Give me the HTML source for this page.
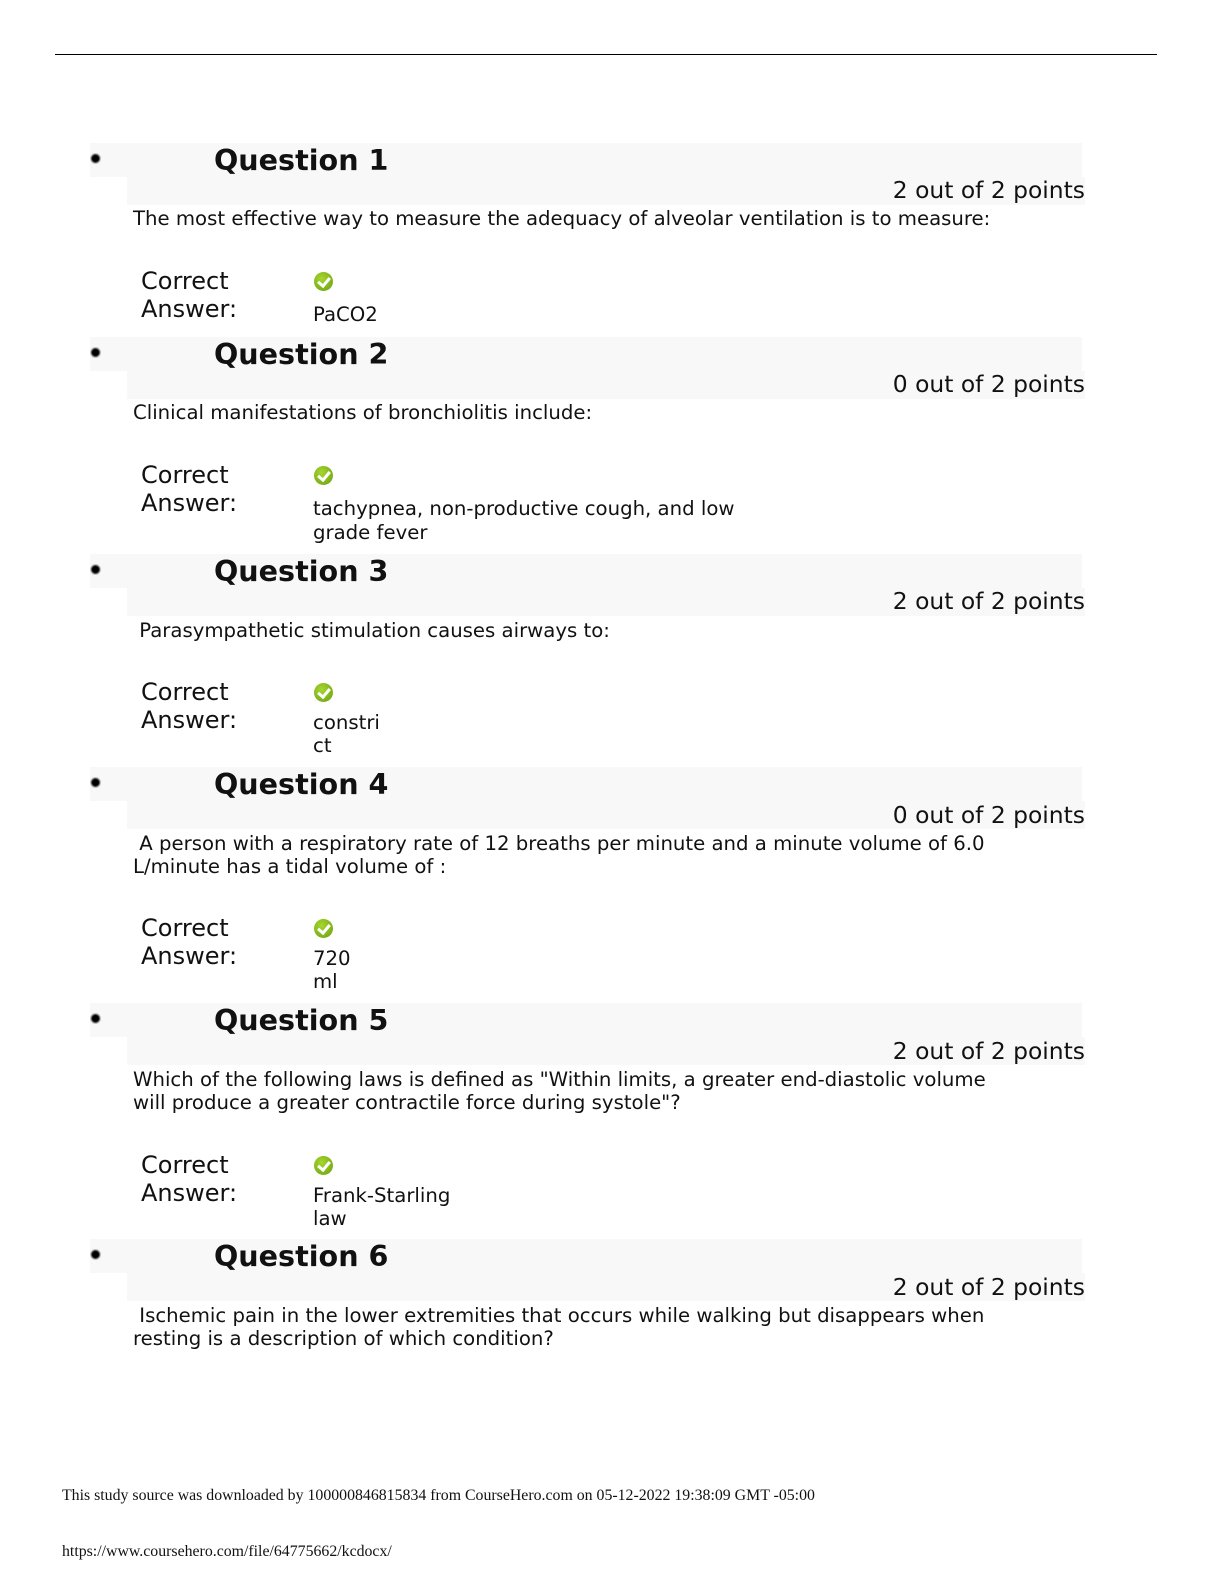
<!DOCTYPE html>
<html><head><meta charset="utf-8"><style>
html,body{margin:0;padding:0;background:#fff;}
body{width:1224px;height:1584px;position:relative;overflow:hidden;font-family:"DejaVu Sans","Liberation Sans",sans-serif;color:#111;}
.a{position:absolute;white-space:nowrap;}
.band1{position:absolute;left:90px;width:992px;height:34px;background:#f8f8f8;}
.band2{position:absolute;left:127px;width:958px;height:28px;background:#f8f8f8;}
.t{font-weight:bold;font-size:28.6px;line-height:34px;left:214px;}
.p{font-size:23.4px;line-height:28px;right:139px;}
.q{font-size:19.7px;line-height:23px;left:133px;}
.c{font-size:24px;line-height:28px;left:141px;}
.ans{font-size:19.7px;line-height:23px;left:313px;}
.bul{position:absolute;left:91px;width:7px;height:7px;border-radius:50%;background:#000;border:1.5px solid #555;box-shadow:0 0 0 1px #bbb;}
.chk{position:absolute;left:314px;width:19px;height:19px;border-radius:50%;background:radial-gradient(circle at 40% 35%,#a6d630,#6a9e10);}
.chk:after{content:"";position:absolute;left:6px;top:3px;width:5px;height:9px;border:solid #fff;border-width:0 3px 3px 0;transform:rotate(40deg);}
.f{font-family:"Liberation Serif",serif;font-size:16px;left:62px;transform:scaleX(0.99);transform-origin:left;}
</style></head><body>
<div style="position:absolute;left:55px;top:54px;width:1102px;height:1px;background:#000"></div>

<!-- Q1 -->
<div class="band1" style="top:143px"></div><div class="band2" style="top:177px"></div>
<div class="bul" style="top:154px"></div>
<div class="a t" style="top:143px">Question 1</div>
<div class="a p" style="top:176px">2 out of 2 points</div>
<div class="a q" style="top:207px">The most effective way to measure the adequacy of alveolar ventilation is to measure:</div>
<div class="a c" style="top:267px">Correct</div>
<div class="a c" style="top:295px">Answer:</div>
<div class="chk" style="top:272px"></div>
<div class="a ans" style="top:303px">PaCO2</div>

<!-- Q2 -->
<div class="band1" style="top:337px"></div><div class="band2" style="top:371px"></div>
<div class="bul" style="top:348px"></div>
<div class="a t" style="top:337px">Question 2</div>
<div class="a p" style="top:370px">0 out of 2 points</div>
<div class="a q" style="top:401px">Clinical manifestations of bronchiolitis include:</div>
<div class="a c" style="top:461px">Correct</div>
<div class="a c" style="top:489px">Answer:</div>
<div class="chk" style="top:466px"></div>
<div class="a ans" style="top:497px">tachypnea, non-productive cough, and low</div>
<div class="a ans" style="top:521px">grade fever</div>

<!-- Q3 -->
<div class="band1" style="top:554px"></div><div class="band2" style="top:588px"></div>
<div class="bul" style="top:565px"></div>
<div class="a t" style="top:554px">Question 3</div>
<div class="a p" style="top:587px">2 out of 2 points</div>
<div class="a q" style="top:619px">&nbsp;Parasympathetic stimulation causes airways to:</div>
<div class="a c" style="top:678px">Correct</div>
<div class="a c" style="top:706px">Answer:</div>
<div class="chk" style="top:683px"></div>
<div class="a ans" style="top:711px">constri</div>
<div class="a ans" style="top:734px">ct</div>

<!-- Q4 -->
<div class="band1" style="top:767px"></div><div class="band2" style="top:801px"></div>
<div class="bul" style="top:778px"></div>
<div class="a t" style="top:767px">Question 4</div>
<div class="a p" style="top:801px">0 out of 2 points</div>
<div class="a q" style="top:832px">&nbsp;A person with a respiratory rate of 12 breaths per minute and a minute volume of 6.0</div>
<div class="a q" style="top:855px">L/minute has a tidal volume of :</div>
<div class="a c" style="top:914px">Correct</div>
<div class="a c" style="top:942px">Answer:</div>
<div class="chk" style="top:919px"></div>
<div class="a ans" style="top:947px">720</div>
<div class="a ans" style="top:970px">ml</div>

<!-- Q5 -->
<div class="band1" style="top:1003px"></div><div class="band2" style="top:1037px"></div>
<div class="bul" style="top:1014px"></div>
<div class="a t" style="top:1003px">Question 5</div>
<div class="a p" style="top:1037px">2 out of 2 points</div>
<div class="a q" style="top:1068px">Which of the following laws is defined as "Within limits, a greater end-diastolic volume</div>
<div class="a q" style="top:1091px">will produce a greater contractile force during systole"?</div>
<div class="a c" style="top:1151px">Correct</div>
<div class="a c" style="top:1179px">Answer:</div>
<div class="chk" style="top:1156px"></div>
<div class="a ans" style="top:1184px">Frank-Starling</div>
<div class="a ans" style="top:1207px">law</div>

<!-- Q6 -->
<div class="band1" style="top:1239px"></div><div class="band2" style="top:1273px"></div>
<div class="bul" style="top:1250px"></div>
<div class="a t" style="top:1239px">Question 6</div>
<div class="a p" style="top:1273px">2 out of 2 points</div>
<div class="a q" style="top:1304px">&nbsp;Ischemic pain in the lower extremities that occurs while walking but disappears when</div>
<div class="a q" style="top:1327px">resting is a description of which condition?</div>

<div class="a f" style="top:1487px">This study source was downloaded by 100000846815834 from CourseHero.com on 05-12-2022 19:38:09 GMT -05:00</div>
<div class="a f" style="top:1543px">https://www.coursehero.com/file/64775662/kcdocx/</div>
</body></html>
